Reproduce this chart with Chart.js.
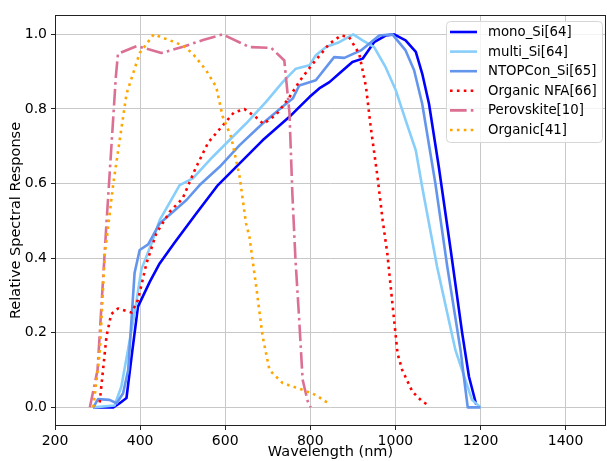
<!DOCTYPE html>
<html>
<head>
<meta charset="utf-8">
<script src="https://cdn.jsdelivr.net/npm/chart.js@4.4.1/dist/chart.umd.min.js"></script>
<style>
    body { margin: 0; background: #fff; }
    canvas { display: block; }
</style>
</head>
<body>
<canvas id="spectralChart" width="607" height="461"></canvas>
<script>
// Wavelengths (nm) and relative response for each cell type
const monoWl = [290, 337, 352, 368, 380, 395, 423, 446, 480, 532, 583, 634, 688, 751, 774, 798, 821, 845, 868, 899, 923, 950, 977, 997, 1024, 1048, 1063, 1079, 1102, 1130, 1157, 1173, 1190];
const monoResp = [0, 0, 0.011, 0.025, 0.136, 0.27, 0.337, 0.386, 0.44, 0.52, 0.596, 0.654, 0.716, 0.779, 0.805, 0.832, 0.855, 0.872, 0.895, 0.926, 0.935, 0.979, 0.997, 1.0, 0.984, 0.953, 0.895, 0.814, 0.645, 0.422, 0.199, 0.082, 0.007];

const multiWl = [290, 340, 356, 387, 403, 427, 446, 493, 524, 571, 649, 696, 735, 766, 798, 813, 837, 868, 901, 923, 950, 977, 1001, 1024, 1048, 1063, 1098, 1141, 1180, 1200];
const multiResp = [0, 0.005, 0.056, 0.252, 0.37, 0.44, 0.502, 0.596, 0.614, 0.672, 0.761, 0.819, 0.872, 0.908, 0.917, 0.944, 0.966, 0.979, 1.0, 0.984, 0.966, 0.912, 0.85, 0.77, 0.689, 0.591, 0.377, 0.154, 0.02, 0];

const topconWl = [290, 301, 328, 345, 360, 372, 387, 399, 419, 446, 509, 540, 587, 634, 688, 743, 759, 774, 813, 856, 880, 919, 962, 993, 1024, 1044, 1063, 1094, 1122, 1153, 1170, 1200];
const topconResp = [0, 0.022, 0.02, 0.011, 0.038, 0.1, 0.36, 0.422, 0.437, 0.493, 0.556, 0.596, 0.645, 0.703, 0.761, 0.814, 0.828, 0.863, 0.877, 0.939, 0.937, 0.957, 0.997, 1.0, 0.957, 0.904, 0.814, 0.6, 0.377, 0.154, 0, 0];

const nfaWl = [305, 321, 332, 348, 380, 395, 415, 438, 470, 500, 530, 560, 590, 620, 645, 670, 690, 720, 750, 775, 805, 845, 872, 891, 915, 931, 942, 958, 970, 981, 989, 997, 1005, 1016, 1040, 1063, 1080];
const nfaResp = [0.013, 0.19, 0.25, 0.265, 0.254, 0.288, 0.386, 0.466, 0.525, 0.56, 0.64, 0.71, 0.75, 0.79, 0.8, 0.78, 0.76, 0.785, 0.83, 0.875, 0.92, 0.975, 0.997, 0.993, 0.948, 0.859, 0.752, 0.618, 0.502, 0.413, 0.323, 0.234, 0.145, 0.1, 0.042, 0.016, 0.004];

const perovWl = [282, 300, 321, 333, 343, 348, 393, 450, 501, 548, 594, 657, 708, 739, 751, 758, 765, 774, 782, 794, 801];
const perovResp = [0, 0.1, 0.494, 0.707, 0.886, 0.948, 0.969, 0.95, 0.967, 0.985, 1.0, 0.966, 0.964, 0.93, 0.79, 0.57, 0.4, 0.234, 0.074, 0.016, 0];

const organicWl = [290, 305, 317, 337, 368, 399, 432, 470, 501, 524, 555, 579, 594, 614, 634, 649, 657, 673, 688, 704, 735, 782, 813, 845];
const organicResp = [0, 0.145, 0.41, 0.6, 0.84, 0.95, 1.0, 0.984, 0.97, 0.948, 0.904, 0.859, 0.78, 0.725, 0.618, 0.493, 0.457, 0.323, 0.19, 0.1, 0.065, 0.047, 0.033, 0.009];

const xTickValues = [200, 400, 600, 800, 1000, 1200, 1400];
const yTickValues = [0, 0.2, 0.4, 0.6, 0.8, 1.0];

const FONT = 'DejaVu Sans';
const LW = 2.6;
const DOTTED = [LW, LW * 1.65];
const DASHDOT = [LW * 6.4, LW * 1.6, LW, LW * 1.6];

function toPoints(xs, ys) {
    return xs.map((x, i) => ({ x: x, y: ys[i] }));
}

const seriesDefs = [
    { label: 'mono_Si[64]', wl: monoWl, resp: monoResp, color: '#0000ff', dash: [] },
    { label: 'multi_Si[64]', wl: multiWl, resp: multiResp, color: '#87cefa', dash: [] },
    { label: 'NTOPCon_Si[65]', wl: topconWl, resp: topconResp, color: '#6495ed', dash: [] },
    { label: 'Organic NFA[66]', wl: nfaWl, resp: nfaResp, color: '#ff0000', dash: DOTTED },
    { label: 'Perovskite[10]', wl: perovWl, resp: perovResp, color: '#db7093', dash: DASHDOT },
    { label: 'Organic[41]', wl: organicWl, resp: organicResp, color: '#ffa500', dash: DOTTED }
];

const datasets = seriesDefs.map((s, i) => ({
    label: s.label,
    data: toPoints(s.wl, s.resp),
    borderColor: s.color,
    borderWidth: LW,
    borderDash: s.dash,
    borderCapStyle: 'butt',
    borderJoinStyle: 'round',
    pointRadius: 0,
    tension: 0,
    fill: false,
    order: seriesDefs.length - i   // later series drawn on top
}));

// Black frame round the plot area
const framePlugin = {
    id: 'frame',
    afterDatasetsDraw(chart) {
        const { ctx, chartArea: a } = chart;
        ctx.save();
        ctx.strokeStyle = '#222';
        ctx.lineWidth = 1;
        ctx.strokeRect(Math.round(a.left) + 0.5, Math.round(a.top) + 0.5,
            Math.round(a.right - a.left) - 1, Math.round(a.bottom - a.top) - 1);
        ctx.restore();
    }
};

// Legend box inside the upper right corner
const insideLegend = {
    id: 'insideLegend',
    afterDraw(chart) {
        const { ctx, chartArea: a } = chart;
        const w = 156, rowH = 19.6, h = 121;
        const left = a.right - 4 - w, top = a.top + 6;
        ctx.save();
        ctx.beginPath();
        ctx.roundRect(left + 0.5, top + 0.5, w, h, 4);
        ctx.fillStyle = 'rgba(255,255,255,0.8)';
        ctx.fill();
        ctx.strokeStyle = '#d6d6d6';
        ctx.lineWidth = 1;
        ctx.stroke();

        ctx.font = '13.3px "' + FONT + '"';
        ctx.textBaseline = 'middle';
        chart.data.datasets.forEach((ds, i) => {
            const y = top + 11 + i * rowH;
            ctx.beginPath();
            ctx.setLineDash(ds.borderDash || []);
            ctx.lineCap = 'butt';
            ctx.strokeStyle = ds.borderColor;
            ctx.lineWidth = ds.borderWidth;
            ctx.moveTo(left + 4, y);
            ctx.lineTo(left + 31, y);
            ctx.stroke();
            ctx.setLineDash([]);
            ctx.fillStyle = '#000';
            ctx.fillText(ds.label, left + 42, y + 0.5);
        });
        ctx.restore();
    }
};

const ctx = document.getElementById('spectralChart').getContext('2d');
const spectralChart = new Chart(ctx, {
    type: 'line',
    data: { datasets: datasets },
    options: {
        responsive: false,
        animation: false,
        layout: { padding: { left: 0, top: 15, right: 1, bottom: 0 } },
        plugins: {
            legend: { display: false },
            tooltip: { enabled: false }
        },
        scales: {
            x: {
                type: 'linear',
                min: 200,
                max: 1495,
                afterBuildTicks: (scale) => { scale.ticks = xTickValues.map(v => ({ value: v })); },
                afterFit: (scale) => { scale.height = 35; },
                grid: { color: '#c8c8c8', lineWidth: 1, tickColor: '#222', tickLength: 4 },
                border: { display: false },
                ticks: {
                    color: '#000',
                    font: { family: FONT, size: 14 },
                    padding: 3,
                    maxRotation: 0,
                    callback: (v) => String(v)
                },
                title: {
                    display: true,
                    text: 'Wavelength (nm)',
                    color: '#000',
                    font: { family: FONT, size: 14.5 },
                    padding: { top: 0, bottom: 0 }
                }
            },
            y: {
                type: 'linear',
                min: -0.05,
                max: 1.052,
                afterBuildTicks: (scale) => { scale.ticks = yTickValues.map(v => ({ value: v })); },
                afterFit: (scale) => { scale.width = 55; },
                grid: { color: '#c8c8c8', lineWidth: 1, tickColor: '#222', tickLength: 4 },
                border: { display: false },
                ticks: {
                    color: '#000',
                    font: { family: FONT, size: 14 },
                    padding: 4,
                    callback: (v) => v.toFixed(1)
                },
                title: {
                    display: true,
                    text: 'Relative Spectral Response',
                    color: '#000',
                    font: { family: FONT, size: 14.5 },
                    padding: { top: 8, bottom: 0 }
                }
            }
        }
    },
    plugins: [framePlugin, insideLegend]
});
</script>
</body>
</html>
